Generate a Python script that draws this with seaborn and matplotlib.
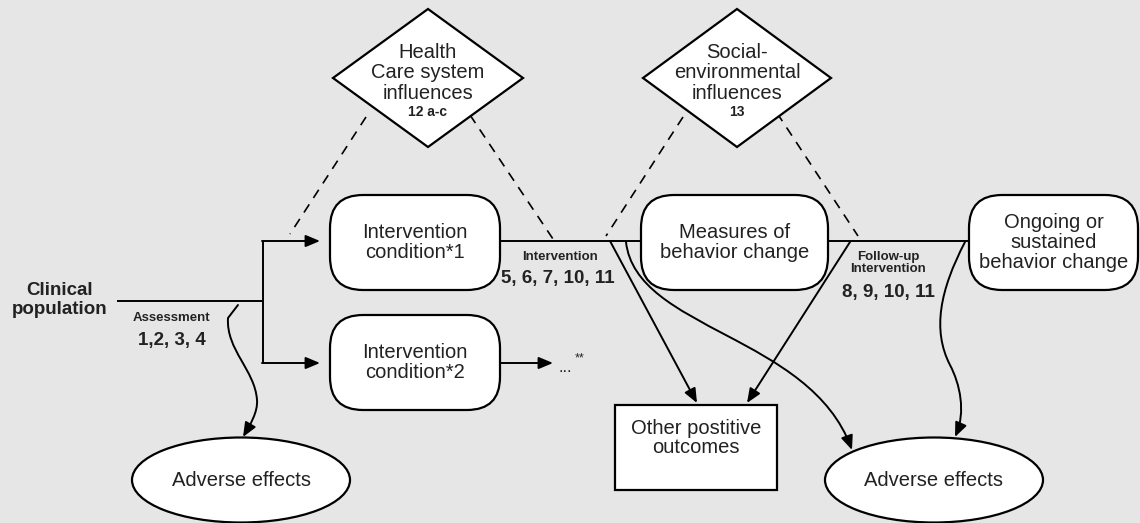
import matplotlib
matplotlib.use("Agg")

import seaborn as sns
from matplotlib import pyplot as plt
from matplotlib.patches import FancyBboxPatch, Ellipse, Polygon, Rectangle, FancyArrowPatch
from matplotlib.path import Path

BG = "#e6e6e6"
INK = "#222222"

sns.set_theme(style="white", rc={"axes.facecolor": BG, "figure.facecolor": BG})
plt.rcParams["font.family"] = ["Liberation Sans", "DejaVu Sans"]
plt.rcParams["lines.scale_dashes"] = False

# --- diagram content ---
population_label = "Clinical\npopulation"
intervention_labels = ["Intervention\ncondition*1", "Intervention\ncondition*2"]
measures_label = "Measures of\nbehavior change"
ongoing_label = "Ongoing or\nsustained\nbehavior change"
influence_labels = ["Health\nCare system\ninfluences", "Social-\nenvironmental\ninfluences"]
influence_items = ["12 a-c", "13"]
stage_labels = ["Assessment", "Intervention", "Follow-up\nIntervention"]
stage_items = ["1,2, 3, 4", "5, 6, 7, 10, 11", "8, 9, 10, 11"]
other_label = "Other postitive\noutcomes"
adverse_labels = ["Adverse effects", "Adverse effects"]
ellipsis_label, ellipsis_note = "...", "**"

# --- layout (pixel space, y down) ---
W, H = 1140, 523
fig = plt.figure(figsize=(W / 100, H / 100), dpi=100)
ax = fig.add_axes([0, 0, 1, 1])
ax.set_xlim(0, W)
ax.set_ylim(H, 0)
ax.axis("off")

LW_BOX = 1.6
LW_LINE = 1.4


def rbox(x0, y0, x1, y1, text, r=33):
    ax.add_patch(FancyBboxPatch((x0, y0), x1 - x0, y1 - y0,
                                boxstyle=f"round,pad=0,rounding_size={r}",
                                fc="white", ec="black", lw=LW_BOX, zorder=3))
    ax.text((x0 + x1) / 2, (y0 + y1) / 2, text, ha="center", va="center",
            fontsize=14.5, color=INK, linespacing=1.05, zorder=4)


def diamond(cx, cy, hw, hh, text, item):
    ax.add_patch(Polygon([(cx, cy - hh), (cx + hw, cy), (cx, cy + hh), (cx - hw, cy)],
                         closed=True, fc="white", ec="black", lw=LW_BOX, zorder=3))
    ax.text(cx, cy - 5, text, ha="center", va="center", fontsize=14.5,
            color=INK, linespacing=1.1, zorder=4)
    ax.text(cx, cy + 34, item, ha="center", va="center", fontsize=10,
            fontweight="bold", color=INK, zorder=4)


def line(pts, dashed=False):
    xs, ys = zip(*pts)
    if dashed:
        ax.plot(xs, ys, color="black", lw=1.2, dashes=(7, 5.5), zorder=2)
    else:
        ax.plot(xs, ys, color="black", lw=LW_LINE, zorder=2, solid_capstyle="butt")


ARROW = "-|>,head_length=0.86,head_width=0.36"


def arrow(a, b):
    ax.add_patch(FancyArrowPatch(a, b, arrowstyle=ARROW, mutation_scale=10,
                                 shrinkA=0, shrinkB=0, color="black",
                                 lw=LW_LINE, zorder=2))


def curve_arrow(verts, codes):
    ax.add_patch(FancyArrowPatch(path=Path(verts, codes), arrowstyle=ARROW,
                                 mutation_scale=10, color="black", fc="black",
                                 lw=LW_LINE, zorder=2))


# influences and their dashed links
diamond(428, 78, 95, 69, influence_labels[0], influence_items[0])
diamond(737, 78, 94, 69, influence_labels[1], influence_items[1])
line([(366, 117), (290, 234)], dashed=True)
line([(470, 115), (553, 239)], dashed=True)
line([(683, 117), (606, 236)], dashed=True)
line([(777, 113), (858, 236)], dashed=True)

# main flow
ax.text(60, 300, population_label, ha="center", va="center", fontsize=13.5,
        fontweight="bold", color=INK, linespacing=1.1)
line([(117, 301), (263, 301)])
line([(263, 241), (263, 363)])
arrow((262, 241), (320, 241))
arrow((262, 363), (320, 363))

rbox(330, 195, 500, 290, intervention_labels[0])
rbox(330, 315, 500, 410, intervention_labels[1])
rbox(641, 195, 828, 290, measures_label)
rbox(969, 195, 1138, 290, ongoing_label)

line([(500, 241), (641, 241)])
line([(828, 241), (969, 241)])
arrow((500, 363), (553, 363))
ax.text(559, 367, ellipsis_label, ha="left", va="center", fontsize=12, color=INK)
ax.text(575, 358, ellipsis_note, ha="left", va="center", fontsize=9, color=INK)

# stage labels
ax.text(171, 318, stage_labels[0], ha="center", va="center", fontsize=9.5,
        fontweight="bold", color=INK)
ax.text(172, 341, stage_items[0], ha="center", va="center", fontsize=13.5,
        fontweight="bold", color=INK)
ax.text(560, 257, stage_labels[1], ha="center", va="center", fontsize=9.5,
        fontweight="bold", color=INK)
ax.text(558, 279, stage_items[1], ha="center", va="center", fontsize=13.5,
        fontweight="bold", color=INK)
ax.text(888, 263, stage_labels[2], ha="center", va="center", fontsize=9.5,
        fontweight="bold", color=INK, linespacing=1.0)
ax.text(888, 293, stage_items[2], ha="center", va="center", fontsize=13.5,
        fontweight="bold", color=INK)

# outcomes
ax.add_patch(Rectangle((615, 405), 162, 85, fc="white", ec="black", lw=LW_BOX, zorder=3))
ax.text(696, 438, other_label, ha="center", va="center", fontsize=14.5,
        color=INK, linespacing=1.0, zorder=4)
for cx, label in zip([241, 934], adverse_labels):
    ax.add_patch(Ellipse((cx, 480), 218, 85, fc="white", ec="black", lw=LW_BOX, zorder=3))
    ax.text(cx, 480, label, ha="center", va="center", fontsize=14.5, color=INK, zorder=4)

# arrows to outcomes
C4, L2, M = Path.CURVE4, Path.LINETO, Path.MOVETO
curve_arrow([(238, 305), (228, 318), (226, 350), (255, 370), (257, 400),
             (258, 412), (250, 425), (243, 437)],
            [M, L2, C4, C4, C4, C4, C4, C4])
arrow((610, 241), (697, 403))
curve_arrow([(626, 242), (636, 330), (810, 335), (852, 450)], [M, C4, C4, C4])
arrow((850, 242), (747, 403))
curve_arrow([(965, 242), (940, 290), (932, 330), (950, 365),
             (960, 384), (966, 412), (955, 437)],
            [M, C4, C4, C4, C4, C4, C4])

fig.savefig("out.png", dpi=100, facecolor=BG)
